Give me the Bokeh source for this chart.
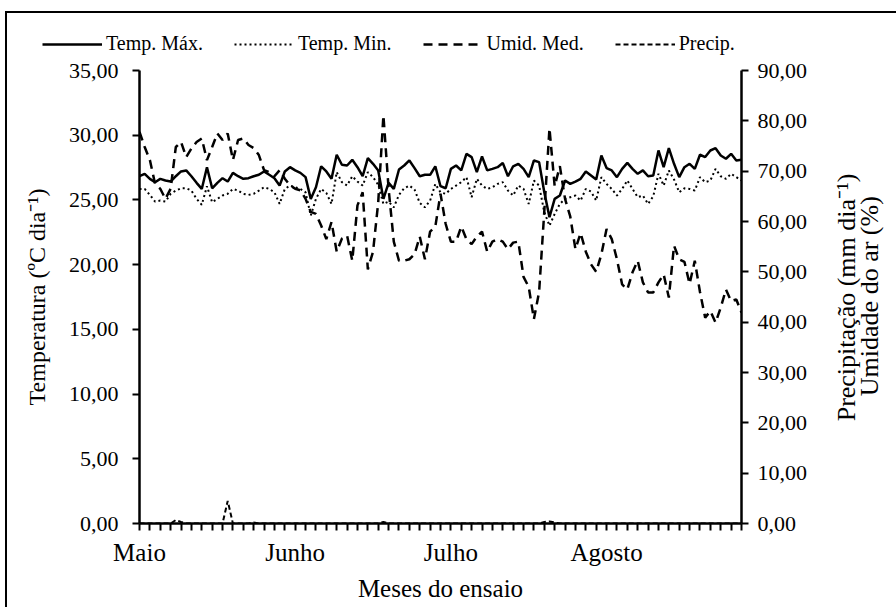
import math
from bokeh.plotting import figure
from bokeh.layouts import column
from bokeh.models import Range1d, LinearAxis, FixedTicker, Legend, LegendItem, ColumnDataSource
from bokeh.embed import file_html
from bokeh.resources import INLINE

days = list(range(117))

temp_max = [26.83, 27.02, 26.63, 26.37, 26.63, 26.50, 26.42, 26.83, 27.20, 27.28,
            26.83, 26.32, 25.85, 27.53, 25.90, 26.32, 26.68, 26.42, 27.09, 26.83,
            26.63, 26.68, 26.83, 26.94, 27.20, 26.94, 26.68, 26.11, 27.20, 27.53,
            27.28, 27.09, 26.76, 25.08, 25.98, 27.60, 27.20, 26.63, 28.49, 27.72,
            27.66, 28.10, 27.53, 26.83, 28.23, 27.79, 27.28, 25.08, 26.32, 25.85,
            27.35, 27.66, 28.05, 27.46, 26.83, 26.94, 26.94, 27.60, 26.06, 25.90,
            27.40, 27.66, 27.28, 28.56, 28.31, 27.15, 28.36, 27.28, 27.40, 27.53,
            27.86, 26.83, 27.60, 27.79, 27.40, 26.76, 28.05, 27.92, 25.59, 23.66,
            25.08, 25.34, 26.50, 26.24, 26.42, 26.63, 27.20, 26.89, 26.58, 28.43,
            27.46, 27.28, 26.76, 27.40, 27.86, 27.40, 27.02, 27.28, 26.83, 26.89,
            28.82, 27.53, 29.00, 27.79, 26.76, 27.53, 27.79, 27.40, 28.49, 28.31,
            28.82, 29.00, 28.43, 28.18, 28.56, 28.05, 28.10]

temp_min = [25.85, 25.85, 25.39, 24.87, 24.95, 24.87, 25.47, 25.72, 25.90, 25.90,
            25.72, 25.08, 24.62, 26.06, 24.82, 25.08, 25.34, 25.47, 25.85, 25.72,
            25.47, 25.39, 25.47, 25.72, 25.98, 25.85, 25.59, 24.69, 25.85, 26.11,
            25.98, 25.85, 25.59, 23.79, 25.08, 25.85, 25.54, 24.69, 27.15, 26.37,
            26.11, 26.83, 26.42, 26.11, 27.15, 26.76, 26.16, 24.69, 24.87, 24.43,
            25.39, 25.90, 26.11, 25.80, 24.77, 24.43, 24.95, 26.24, 25.59, 25.47,
            25.85, 26.11, 26.37, 26.76, 25.21, 26.63, 26.11, 25.85, 25.98, 26.24,
            26.37, 25.72, 25.34, 26.11, 25.85, 24.69, 26.50, 26.11, 24.05, 23.01,
            23.92, 24.69, 25.08, 25.21, 25.34, 24.95, 25.85, 25.65, 24.95, 26.76,
            26.24, 25.85, 25.34, 25.85, 26.50, 25.85, 25.21, 25.34, 24.69, 25.29,
            27.02, 26.11, 27.28, 26.58, 25.59, 25.90, 25.85, 25.72, 26.76, 26.37,
            26.50, 27.40, 26.83, 26.63, 27.02, 26.76, 26.50]

umid_med = [77.8, 74.8, 72.2, 67.5, 66.5, 64.5, 66.5, 74.8, 75.8, 72.8,
            74.5, 75.8, 76.5, 72.2, 74.8, 77.5, 76.2, 77.5, 72.2, 76.2,
            76.5, 75.2, 74.6, 73.2, 70.2, 69.8, 69.0, 70.2, 68.5, 67.2,
            66.5, 66.2, 64.5, 61.9, 61.5, 59.2, 56.5, 59.9, 54.0, 56.6,
            57.2, 52.2, 63.2, 65.8, 50.5, 54.0, 63.8, 81.1, 66.5, 56.0,
            52.2, 52.2, 52.5, 53.5, 57.0, 52.5, 58.0, 59.0, 65.5, 59.5,
            56.0, 56.0, 59.0, 56.5, 55.5, 57.0, 58.0, 54.0, 56.0, 56.5,
            56.0, 54.5, 55.8, 56.0, 49.0, 47.0, 40.6, 46.0, 62.0, 78.5,
            67.0, 71.0, 64.5, 61.0, 54.5, 57.7, 54.0, 51.5, 50.0, 53.5,
            58.5, 56.5, 52.5, 47.5, 46.5, 49.9, 52.2, 47.9, 45.9, 45.9,
            47.9, 49.5, 44.9, 55.2, 52.5, 52.0, 47.6, 52.2, 46.0, 40.9,
            42.2, 39.9, 42.9, 46.5, 44.2, 44.5, 41.9]

precip = [0, 0, 0, 0, 0, 0, 0, 0.7, 0.3, 0,
          0, 0, 0, 0, 0, 0, 0, 4.5, 0, 0,
          0, 0, 0.2, 0, 0, 0, 0, 0, 0, 0,
          0, 0, 0, 0, 0, 0, 0, 0, 0, 0,
          0, 0, 0, 0, 0, 0, 0, 0.3, 0, 0,
          0, 0, 0, 0, 0, 0, 0, 0, 0, 0,
          0, 0, 0, 0, 0, 0, 0, 0, 0, 0,
          0, 0, 0, 0, 0, 0, 0, 0, 0.3, 0.4,
          0.2, 0, 0, 0, 0, 0, 0, 0, 0, 0,
          0, 0, 0, 0, 0, 0, 0, 0, 0, 0,
          0, 0, 0, 0, 0, 0, 0, 0, 0, 0,
          0, 0, 0, 0, 0, 0, 0]

month_labels = {0: "Maio", 30: "Junho", 60: "Julho", 90: "Agosto"}
left_ticks = [0, 5, 10, 15, 20, 25, 30, 35]
right_ticks = [0, 10, 20, 30, 40, 50, 60, 70, 80, 90]
right_titles = ["Precipitação (mm dia⁻¹)", "Umidade do ar (%)"]
series_names = ["Temp. Máx.", "Temp. Min.", "Umid. Med.", "Precip."]

FONT = "Liberation Serif"
STYLES = [dict(line_color="black", line_width=2.5),
          dict(line_color="black", line_width=2, line_dash="2 3"),
          dict(line_color="black", line_width=2.5, line_dash="9 6"),
          dict(line_color="black", line_width=2, line_dash="5 3")]

src = ColumnDataSource(dict(day=days, tmax=temp_max, tmin=temp_min, umid=umid_med, prec=precip))


def no_align(fig):
    if "frame_align" in fig.properties():
        fig.frame_align = False


# ---------------- main chart ----------------
p = figure(frame_width=602, frame_height=453, output_backend="svg", toolbar_location=None,
           x_range=Range1d(0, 116), y_range=Range1d(0, 35),
           min_border_left=132, min_border_right=152, min_border_top=13, min_border_bottom=84)
no_align(p)
p.extra_y_ranges = {"right": Range1d(0, 90)}
p.outline_line_color = None
p.grid.visible = False
p.background_fill_color = "white"
p.border_fill_color = "white"


def style_axis(ax, fs="22px"):
    ax.axis_line_color = "black"
    ax.axis_line_width = 2.5
    ax.major_tick_line_color = "black"
    ax.major_tick_line_width = 2
    ax.major_tick_in = 0
    ax.major_tick_out = 7
    ax.minor_tick_line_color = None
    ax.major_label_text_font = FONT
    ax.major_label_text_font_size = fs
    ax.major_label_text_color = "black"
    ax.axis_label_text_font = FONT
    ax.axis_label_text_font_style = "normal"
    ax.axis_label_text_color = "black"


xa = p.xaxis[0]
style_axis(xa, "25px")
xa.ticker = FixedTicker(ticks=list(range(0, 117, 2)))
xa.major_label_overrides = {t: month_labels.get(t, "") for t in range(0, 117, 2)}
xa.major_label_standoff = 8
xa.axis_label = "Meses do ensaio"
xa.axis_label_text_font_size = "25px"
xa.axis_label_standoff = 6

ya = p.yaxis[0]
style_axis(ya)
ya.ticker = FixedTicker(ticks=left_ticks)
ya.major_label_overrides = {t: f"{t:.2f}".replace(".", ",") for t in left_ticks}
ya.major_label_standoff = 14
ya.axis_label = "Temperatura (ºC dia⁻¹)"
ya.axis_label_text_font_size = "24px"
ya.axis_label_standoff = 16

ra = LinearAxis(y_range_name="right", ticker=FixedTicker(ticks=right_ticks))
style_axis(ra)
ra.major_label_overrides = {t: f"{t:.2f}".replace(".", ",") for t in right_ticks}
ra.major_label_standoff = 9
p.add_layout(ra, "right")

# right-side titles drawn as single rotated tick labels (reading bottom-to-top)
for txt, anchor, stand in zip(right_titles, [20.3, 25.3], [36, -9]):
    ta = LinearAxis(y_range_name="right", ticker=FixedTicker(ticks=[anchor]))
    style_axis(ta, "26px")
    ta.axis_line_color = None
    ta.major_tick_line_color = None
    ta.major_tick_out = 0
    ta.major_label_overrides = {anchor: txt}
    ta.major_label_orientation = math.pi / 2
    ta.major_label_standoff = stand
    p.add_layout(ta, "right")

p.line("day", "tmax", source=src, **STYLES[0])
p.line("day", "tmin", source=src, **STYLES[1])
p.line("day", "umid", source=src, y_range_name="right", **STYLES[2])
p.line("day", "prec", source=src, y_range_name="right", **STYLES[3])

# ---------------- legend strip above the chart ----------------
lg = figure(width=886, height=44, output_backend="svg", toolbar_location=None,
            x_range=Range1d(0, 1), y_range=Range1d(0, 1), min_border=0)
no_align(lg)
lg.axis.visible = False
lg.grid.visible = False
lg.outline_line_color = None
lg.background_fill_color = "white"
lg.border_fill_color = "white"
items = []
for name, st in zip(series_names, STYLES):
    r = lg.line(x=[-1, -2], y=[-1, -1], **st)   # legend-only sample, outside the strip's range
    items.append(LegendItem(label=name, renderers=[r]))
legend = Legend(items=items, orientation="horizontal", location=(35, 2),
                glyph_width=60, glyph_height=20, label_standoff=4, spacing=31,
                padding=0, margin=0, border_line_color=None, background_fill_alpha=0,
                label_text_font=FONT, label_text_font_size="20px", label_text_color="black")
lg.add_layout(legend, "center")

layout = column(lg, p, spacing=0,
                styles={"margin-left": "5px", "margin-top": "11px",
                        "border-top": "2px solid black", "border-left": "2px solid black"})

open("out.html", "w").write(file_html(layout, INLINE))
